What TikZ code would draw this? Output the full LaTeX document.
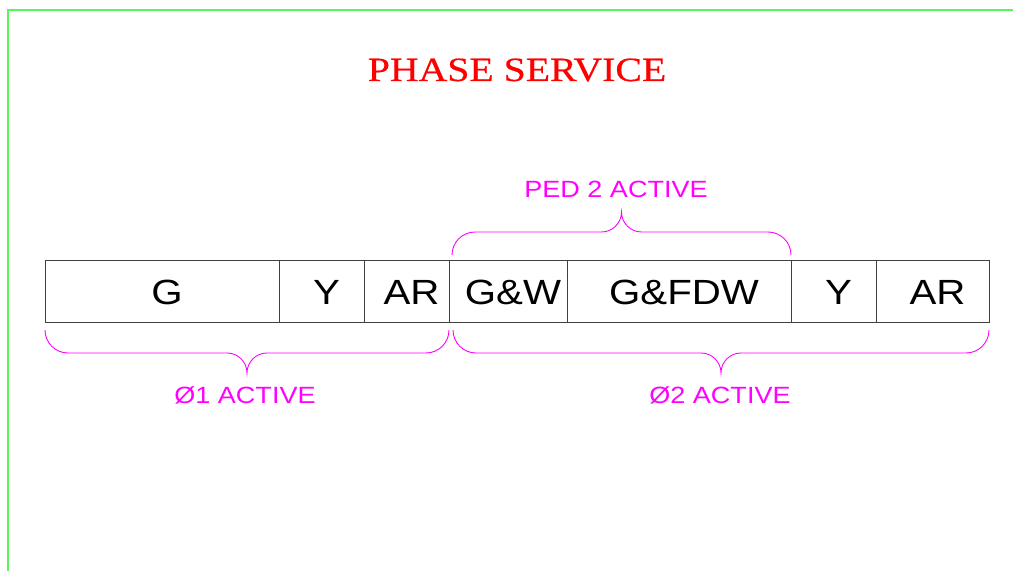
\documentclass[tikz,border=0pt]{standalone}
\usepackage{fontspec}
\usepackage{tikz}
\usetikzlibrary{positioning, calc}

\newfontfamily\cellfont[FakeStretch=1.15]{Liberation Sans}
\newfontfamily\titlefont[FakeStretch=1.17, FakeBold=0.5]{Liberation Serif}
\definecolor{framegreen}{RGB}{90,245,90}
\definecolor{pedpink}{RGB}{255,0,255}

\begin{document}
\begin{tikzpicture}[x=1pt, y=1pt,
    cell/.style={draw=black!75, line width=1pt, minimum height=62pt, inner sep=0pt, outer sep=0pt,
                 text height=25pt, text depth=0pt, font=\cellfont\fontsize{35}{40}\selectfont,
                 execute at begin node=\hspace*{10pt}},
    lbl/.style={text=pedpink, font=\cellfont\fontsize{23.5}{28}\selectfont},
    brc/.style={draw=pedpink, line width=0.9pt}]

\useasboundingbox (0,0) rectangle (1013,571);

% draw frame lines
\draw[color=framegreen, line width=1.5pt] (8,0) -- (8,561) -- (1013,561);

% draw title
\node[text=red, font=\titlefont\fontsize{34}{38}\selectfont] (title) at (517,501) {PHASE SERVICE};

% draw interval cells
\node[cell, minimum width=234pt, anchor=west] (g1) at (45,279) {G};
\node[cell, minimum width=85pt, right=0pt of g1] (y1) {Y};
\node[cell, minimum width=85pt, right=0pt of y1] (ar1) {AR};
\node[cell, minimum width=118pt, right=0pt of ar1] (gw) {G\&W};
\node[cell, minimum width=224pt, right=0pt of gw] (fdw) {G\&FDW};
\node[cell, minimum width=85pt, right=0pt of fdw] (y2) {Y};
\node[cell, minimum width=113pt, right=0pt of y2] (ar2) {AR};

% draw brace ends
\coordinate (pedL) at ([xshift=3pt, yshift=6pt]gw.north west);
\coordinate (pedR) at ([yshift=6pt]y2.north west);
\coordinate (phAL) at ([yshift=-7pt]g1.south west);
\coordinate (phAR) at ([yshift=-7pt]ar1.south east);
\coordinate (phBL) at ([xshift=4pt, yshift=-7pt]gw.south west);
\coordinate (phBR) at ([yshift=-7pt]ar2.south east);

% draw braces
\draw[brc] (pedL) arc [start angle=180, end angle=90, radius=23pt]
           -- ($(pedL)!0.5!(pedR) + (-20,23)$) arc [start angle=-90, end angle=0, radius=20pt]
           arc [start angle=180, end angle=270, radius=20pt]
           -- ($(pedR) + (-23,23)$) arc [start angle=90, end angle=0, radius=23pt];

\draw[brc] (phAL) arc [start angle=180, end angle=270, radius=23pt]
           -- ($(phAL)!0.5!(phAR) + (-20,-23)$) arc [start angle=90, end angle=0, radius=20pt]
           arc [start angle=180, end angle=90, radius=20pt]
           -- ($(phAR) + (-23,-23)$) arc [start angle=270, end angle=360, radius=23pt];

\draw[brc] (phBL) arc [start angle=180, end angle=270, radius=23pt]
           -- ($(phBL)!0.5!(phBR) + (-20,-23)$) arc [start angle=90, end angle=0, radius=20pt]
           arc [start angle=180, end angle=90, radius=20pt]
           -- ($(phBR) + (-23,-23)$) arc [start angle=270, end angle=360, radius=23pt];

% draw labels
\node[lbl] (ped) at (616,382) {PED 2 ACTIVE};
\node[lbl] (ph1) at (245,176) {Ø1 ACTIVE};
\node[lbl] (ph2) at (720,176) {Ø2 ACTIVE};

\end{tikzpicture}
\end{document}
